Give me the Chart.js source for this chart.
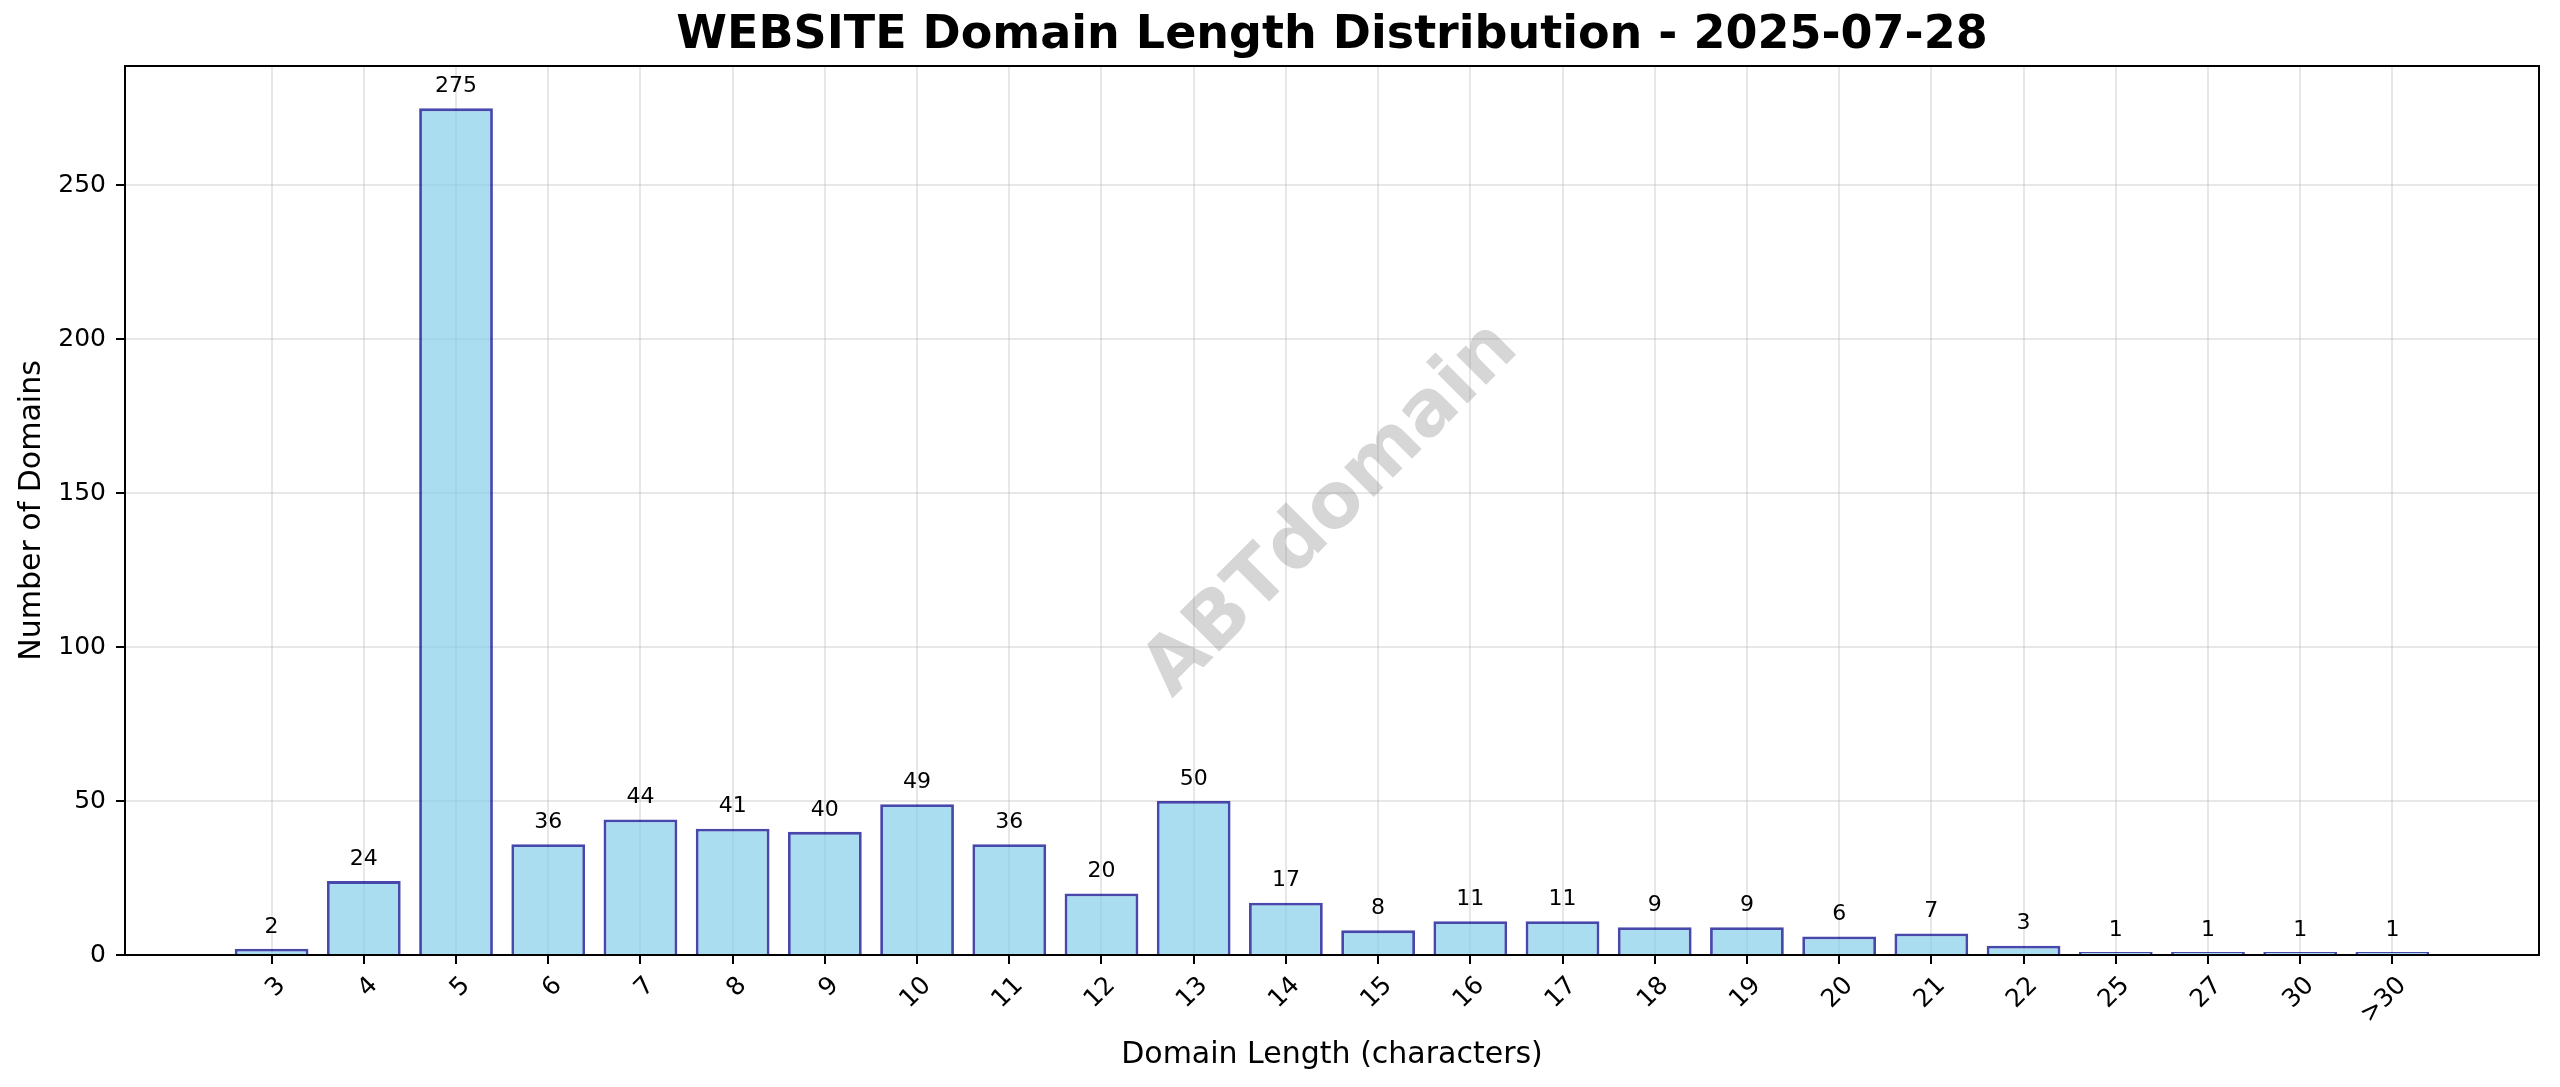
<!DOCTYPE html>
<html>
<head>
<meta charset="utf-8">
<title>WEBSITE Domain Length Distribution</title>
<script src="https://cdn.jsdelivr.net/npm/chart.js@4/dist/chart.umd.min.js"></script>
<style>
  html, body { margin: 0; padding: 0; background: #fff; }
  #wrap { width: 2560px; height: 1087px; position: relative; }
</style>
</head>
<body>
<div id="wrap"><canvas id="chart"></canvas></div>
<script>
// domain length buckets and how many domains fall in each
const lengthLabels = ['3', '4', '5', '6', '7', '8', '9', '10', '11', '12', '13', '14',
  '15', '16', '17', '18', '19', '20', '21', '22', '25', '27', '30', '>30'];
const domainCounts = [2, 24, 275, 36, 44, 41, 40, 49, 36, 20, 50, 17,
  8, 11, 11, 9, 9, 6, 7, 3, 1, 1, 1, 1];
const yTicks = [0, 50, 100, 150, 200, 250];

const TITLE = 'WEBSITE Domain Length Distribution - 2025-07-28';
const FONT = "'DejaVu Sans', 'Liberation Sans', sans-serif";

// matplotlib-like limits: bars 0.8 wide plus a 5% margin, y headroom 5%
const span = lengthLabels.length - 1 + 0.8;
const xMin = -0.4 - 0.05 * span;
const xMax = lengthLabels.length - 1 + 0.4 + 0.05 * span;
const yMax = Math.max(...domainCounts) * 1.05;

// title is centred over the plot area, like matplotlib does it
const axesTitle = {
  id: 'axesTitle',
  afterDraw(chart) {
    const { ctx, chartArea } = chart;
    ctx.save();
    ctx.font = `bold 46px ${FONT}`;
    ctx.fillStyle = '#000';
    ctx.textAlign = 'center';
    ctx.textBaseline = 'middle';
    ctx.fillText(TITLE, (chartArea.left + chartArea.right) / 2, 36);
    ctx.restore();
  }
};

const watermark = {
  id: 'watermark',
  beforeDatasetsDraw(chart) {
    const { ctx, chartArea } = chart;
    ctx.save();
    ctx.translate((chartArea.left + chartArea.right) / 2, (chartArea.top + chartArea.bottom) / 2);
    ctx.rotate(-Math.PI / 4);
    ctx.font = `bold 77px ${FONT}`;
    ctx.fillStyle = 'rgba(128,128,128,0.32)';
    ctx.textAlign = 'center';
    ctx.textBaseline = 'middle';
    ctx.fillText('ABTdomain', 0, 0);
    ctx.restore();
  }
};

const valueLabels = {
  id: 'valueLabels',
  afterDatasetsDraw(chart) {
    const { ctx } = chart;
    const meta = chart.getDatasetMeta(0);
    ctx.save();
    ctx.font = `22px ${FONT}`;
    ctx.fillStyle = '#000';
    ctx.textAlign = 'center';
    ctx.textBaseline = 'middle';
    meta.data.forEach((bar, i) => {
      ctx.fillText(String(domainCounts[i]), bar.x, bar.y - 22);
    });
    ctx.restore();
  }
};

const frame = {
  id: 'frame',
  afterDraw(chart) {
    const { ctx, chartArea } = chart;
    ctx.save();
    ctx.strokeStyle = '#000';
    ctx.lineWidth = 2;
    ctx.strokeRect(chartArea.left, chartArea.top,
      chartArea.right - chartArea.left, chartArea.bottom - chartArea.top);
    ctx.restore();
  }
};

const gridStyle = {
  offset: false,
  color: 'rgba(176,176,176,0.3)',
  lineWidth: 2,
  tickColor: '#000',
  tickWidth: 2,
  tickLength: 9
};

new Chart(document.getElementById('chart'), {
  type: 'bar',
  data: {
    datasets: [{
      data: domainCounts.map((v, i) => ({ x: i, y: v })),
      backgroundColor: 'rgba(135,206,235,0.7)',
      borderColor: 'rgba(0,0,140,0.72)',
      borderWidth: 2.8,
      barPercentage: 0.8,
      categoryPercentage: 1.0
    }]
  },
  options: {
    responsive: true,
    maintainAspectRatio: false,
    devicePixelRatio: 1,
    animation: false,
    layout: { padding: { left: 0, right: 21, top: 66, bottom: 0 } },
    plugins: {
      legend: { display: false },
      tooltip: { enabled: false },
      title: { display: false }
    },
    scales: {
      x: {
        type: 'linear',
        min: xMin,
        max: xMax,
        offset: false,
        z: 1,
        grid: gridStyle,
        border: { display: true, color: '#000', width: 2 },
        afterBuildTicks(axis) {
          axis.ticks = lengthLabels.map((_, i) => ({ value: i }));
        },
        afterFit(scale) { scale.height = 132; },
        ticks: {
          autoSkip: false,
          includeBounds: false,
          stepSize: 1,
          minRotation: 45,
          maxRotation: 45,
          padding: 7,
          labelOffset: 10,
          color: '#000',
          font: { family: FONT, size: 25 },
          callback: (v) => lengthLabels[v] ?? ''
        },
        title: {
          display: true,
          text: 'Domain Length (characters)',
          color: '#000',
          font: { family: FONT, size: 30 },
          padding: { top: 0, bottom: 14 }
        }
      },
      y: {
        min: 0,
        max: yMax,
        z: 1,
        grid: gridStyle,
        border: { display: true, color: '#000', width: 2 },
        afterBuildTicks(axis) {
          axis.ticks = yTicks.map(v => ({ value: v }));
        },
        afterFit(scale) { scale.width = 125; },
        ticks: {
          includeBounds: false,
          padding: 10,
          color: '#000',
          font: { family: FONT, size: 25 }
        },
        title: {
          display: true,
          text: 'Number of Domains',
          color: '#000',
          font: { family: FONT, size: 30 },
          padding: { top: 14, bottom: 0 }
        }
      }
    }
  },
  plugins: [watermark, valueLabels, frame, axesTitle]
});
</script>
</body>
</html>
